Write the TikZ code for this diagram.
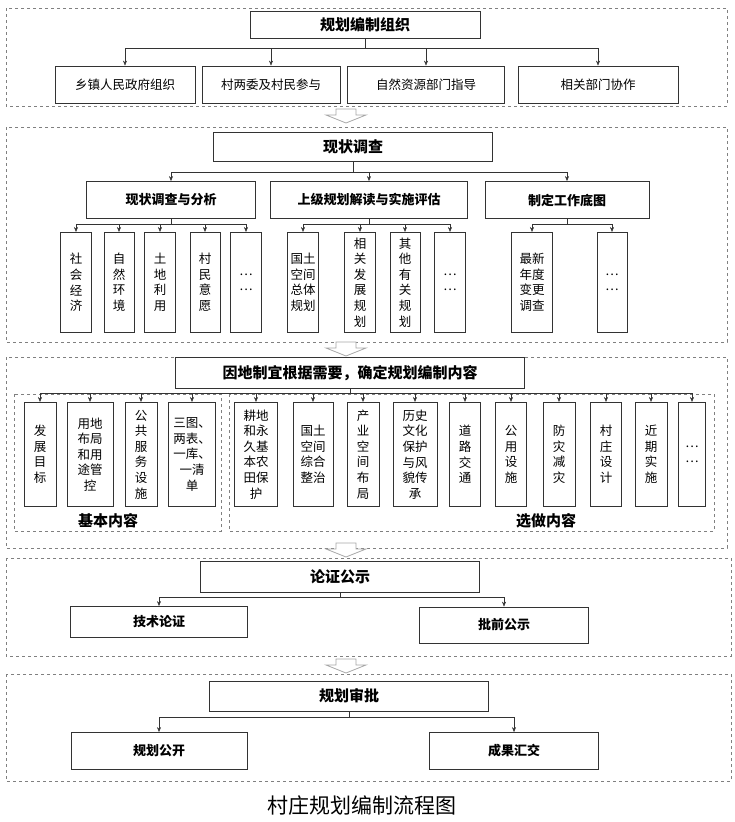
\documentclass[tikz,border=0pt]{standalone}
\usepackage{fontspec}
\setmainfont{Noto Sans CJK SC}
\usetikzlibrary{arrows.meta}
\tikzset{
  sect/.style={draw=gray, dashed, thin},
  box/.style={draw=black!80, thick, fill=white, inner sep=1pt, align=center},
  head/.style={box, font=\bfseries\fontsize{15}{18}\selectfont},
  mid/.style={box, font=\bfseries\fontsize{13}{15}\selectfont},
  leaf/.style={box, font=\fontsize{12.5}{15.6}\selectfont},
  arr/.style={draw=black!80, -{Stealth[length=5pt,width=4pt]}},
  hollow/.style={draw=gray!70, fill=white, thick}
}
\newcommand{\hollowarrow}[1]{%
  \draw[hollow] (336,#1) -- (356,#1) -- (356,#1+6) -- (366,#1+6) -- (346,#1+14)
     -- (326,#1+6) -- (336,#1+6) -- cycle;}
\begin{document}
\begin{tikzpicture}[x=1pt,y=-1pt]
  \useasboundingbox (0,0) rectangle (734,822);

  % dashed sections
  \draw[sect] (6,8) rectangle (727,106);
  \draw[sect] (6,127) rectangle (727,342);
  \draw[sect] (6,357) rectangle (727,548);
  \draw[sect] (14,394) rectangle (221,531);
  \draw[sect] (229,394) rectangle (714,531);
  \draw[sect] (6,558) rectangle (731,656);
  \draw[sect] (6,674) rectangle (731,781);

  \hollowarrow{109}
  \hollowarrow{342}
  \hollowarrow{543}
  \hollowarrow{659}

  % section 1
  \node[head, minimum width=230, minimum height=27] (org) at (365,25) {规划编制组织};
  \foreach \n/\cx/\w/\t in {o1/125/140/乡镇人民政府组织, o2/271/138/村两委及村民参与,
      o3/426/157/自然资源部门指导, o4/598/160/相关部门协作} {
    \node[leaf, minimum width=\w, minimum height=37] (\n) at (\cx,84.5) {\t};
    \draw[arr] (org.south) -- ++(0,9) -| (\n.north);
  }

  % section 2
  \node[head, minimum width=279, minimum height=29] (xz) at (353,147) {现状调查};
  \node[mid, minimum width=169, minimum height=37] (fx) at (171,200) {现状调查与分析};
  \node[mid, minimum width=197, minimum height=37] (sj) at (369,200) {上级规划解读与实施评估};
  \node[mid, minimum width=164, minimum height=37] (dt) at (567,200) {制定工作底图};
  \foreach \n in {fx,sj,dt}
    \draw[arr] (xz.south) -- ++(0,10) -| (\n.north);
  \foreach \p/\n/\cx/\w/\t in {fx/a1/76/31/{社\\会\\经\\济}, fx/a2/119/30/{自\\然\\环\\境},
      fx/a3/160/31/{土\\地\\利\\用}, fx/a4/205/30/{村\\民\\意\\愿}, fx/a5/246/31/{…\\…},
      sj/b1/303/31/{国土\\空间\\总体\\规划}, sj/b2/360/31/{相\\关\\发\\展\\规\\划},
      sj/b3/405/30/{其\\他\\有\\关\\规\\划}, sj/b4/450/31/{…\\…},
      dt/c1/532/41/{最新\\年度\\变更\\调查}, dt/c2/612/30/{…\\…}} {
    \node[leaf, minimum width=\w, minimum height=100, anchor=north] (\n) at (\cx,232) {\t};
    \draw[arr] (\p.south) -- ++(0,5) -| (\n.north);
  }

  % section 3
  \node[head, minimum width=349, minimum height=31] (nr) at (350,373) {因地制宜根据需要，确定规划编制内容};
  \foreach \n/\cx/\w/\t in {d1/40/32/{发\\展\\目\\标}, d2/90/46/{用地\\布局\\和用\\途管\\控},
      d3/141/32/{公\\共\\服\\务\\设\\施}, d4/192/47/{三图、\\两表、\\一库、\\一清\\单},
      e1/256/43/{耕地\\和永\\久基\\本农\\田保\\护}, e2/313/40/{国土\\空间\\综合\\整治},
      e3/363/32/{产\\业\\空\\间\\布\\局}, e4/415/44/{历史\\文化\\保护\\与风\\貌传\\承},
      e5/465/31/{道\\路\\交\\通}, e6/511/31/{公\\用\\设\\施}, e7/559/32/{防\\灾\\减\\灾},
      e8/606/31/{村\\庄\\设\\计}, e9/651/32/{近\\期\\实\\施}, e10/692/27/{…\\…}} {
    \node[leaf, minimum width=\w, minimum height=104, anchor=north] (\n) at (\cx,402) {\t};
    \draw[arr] (nr.south) -- ++(0,4) -| (\n.north);
  }
  \node[font=\bfseries\fontsize{15}{18}\selectfont] (jb) at (108,521) {基本内容};
  \node[font=\bfseries\fontsize{15}{18}\selectfont] (xzn) at (546,521) {选做内容};

  % section 4
  \node[head, minimum width=279, minimum height=31] (lz) at (340,577) {论证公示};
  \node[mid, minimum width=177, minimum height=31] (js) at (159,622) {技术论证};
  \node[mid, minimum width=169, minimum height=36] (pq) at (504,625) {批前公示};
  \foreach \n in {js,pq}
    \draw[arr] (lz.south) -- ++(0,4) -| (\n.north);

  % section 5
  \node[head, minimum width=279, minimum height=30] (sp) at (349,696) {规划审批};
  \node[mid, minimum width=176, minimum height=37] (gk) at (159,751) {规划公开};
  \node[mid, minimum width=169, minimum height=37] (hj) at (514,751) {成果汇交};
  \foreach \n in {gk,hj}
    \draw[arr] (sp.south) -- ++(0,6) -| (\n.north);

  \node[font=\fontsize{21}{24}\selectfont] (cap) at (362,806) {村庄规划编制流程图};
\end{tikzpicture}
\end{document}
